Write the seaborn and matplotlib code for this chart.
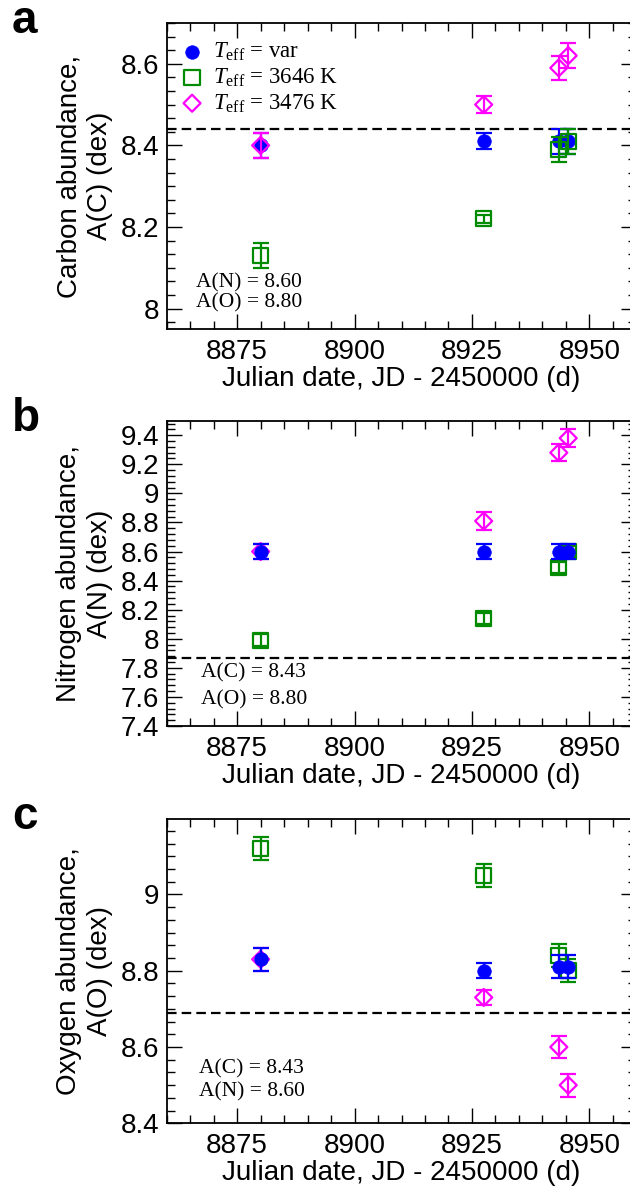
import matplotlib
matplotlib.use("Agg")
import matplotlib.pyplot as plt
from matplotlib.ticker import FixedLocator, AutoMinorLocator, MultipleLocator, FuncFormatter
import seaborn as sns

sns.set_theme(style="ticks", rc={
    "axes.edgecolor": "black", "text.color": "black",
    "xtick.color": "black", "ytick.color": "black",
    "axes.labelcolor": "black",
})
plt.rcParams["font.family"] = ["Liberation Sans", "DejaVu Sans"]
plt.rcParams["mathtext.fontset"] = "custom"
plt.rcParams["mathtext.rm"] = "Liberation Serif"
plt.rcParams["mathtext.it"] = "Liberation Serif:italic"

# Observation epochs (JD - 2450000)
jd = [8880.0, 8927.5, 8943.5, 8945.5]

# Carbon abundance A(C)
c_var = [8.40, 8.41, 8.41, 8.41]
c_var_err = [0.03, 0.02, 0.03, 0.03]
c_3646 = [8.13, 8.22, 8.39, 8.41]
c_3646_err = [0.03, 0.01, 0.03, 0.03]
c_3476 = [8.40, 8.50, 8.59, 8.62]
c_3476_err = [0.03, 0.02, 0.03, 0.03]

# Nitrogen abundance A(N)
n_var = [8.60, 8.60, 8.60, 8.60]
n_var_err = [0.05, 0.05, 0.05, 0.05]
n_3646 = [7.99, 8.14, 8.49, 8.60]
n_3646_err = [0.04, 0.04, 0.04, 0.04]
n_3476 = [8.60, 8.81, 9.28, 9.38]
n_3476_err = [0.05, 0.06, 0.06, 0.06]

# Oxygen abundance A(O)
o_var = [8.83, 8.80, 8.81, 8.81]
o_var_err = [0.03, 0.02, 0.03, 0.03]
o_3646 = [9.12, 9.05, 8.84, 8.80]
o_3646_err = [0.03, 0.03, 0.03, 0.03]
o_3476 = [8.83, 8.73, 8.60, 8.50]
o_3476_err = [0.03, 0.02, 0.03, 0.03]

# Reference (solar) abundances shown as dashed lines
ref_c, ref_n, ref_o = 8.44, 7.87, 8.69

series_labels = [r"$T_{\rm eff}$ = var", r"$T_{\rm eff}$ = 3646 K", r"$T_{\rm eff}$ = 3476 K"]

BLUE, GREEN, MAGENTA = "#0000ff", "#008b00", "#ff00ff"
STYLE = {
    "var": dict(color=BLUE, marker="o", s=95, fc=BLUE, lw=0.5),
    "3646": dict(color=GREEN, marker="s", s=121, fc="none", lw=1.6),
    "3476": dict(color=MAGENTA, marker="D", s=75, fc="none", lw=1.6),
}

W, H = 630, 1190
fig = plt.figure(figsize=(W / 100, H / 100), dpi=100)

x_left, x_right = 166.7, 636.3
panels = [
    # (top px, bottom px)
    (23.0, 329.0),
    (420.7, 726.0),
    (819.3, 1123.3),
]


def make_axes(top, bottom):
    return fig.add_axes([x_left / W, 1 - bottom / H, (x_right - x_left) / W, (bottom - top) / H])


def draw(ax, key, y, yerr, z, label):
    st = STYLE[key]
    ax.errorbar(jd, y, yerr=yerr, fmt="none", ecolor=st["color"], elinewidth=1.6,
                capsize=5.6, capthick=1.6, zorder=z)
    sns.scatterplot(x=jd, y=y, ax=ax, marker=st["marker"], s=st["s"], color=st["color"],
                    facecolor=st["fc"], edgecolor=st["color"], linewidth=st["lw"],
                    zorder=z + 0.5, label=label)


fmt = FuncFormatter(lambda v, p: "%g" % round(v, 2))


def style_axes(ax, ylim, majors, nminor, ylabel):
    ax.set_xlim(8860, 8960)
    ax.set_ylim(*ylim)
    ax.xaxis.set_major_locator(FixedLocator([8875, 8900, 8925, 8950]))
    ax.xaxis.set_minor_locator(MultipleLocator(5))
    ax.yaxis.set_major_locator(FixedLocator(majors))
    ax.yaxis.set_minor_locator(AutoMinorLocator(nminor))
    ax.yaxis.set_major_formatter(fmt)
    ax.tick_params(which="both", direction="in", top=True, right=True, width=1.0)
    ax.tick_params(which="major", length=11, labelsize=20)
    ax.tick_params(which="minor", length=5.5)
    ax.tick_params(axis="y", which="major", pad=5.3)
    ax.tick_params(axis="x", which="major", pad=7)
    for sp in ax.spines.values():
        sp.set_linewidth(1.3)
        sp.set_color("black")
    ax.set_xlabel("Julian date, JD - 2450000 (d)", fontsize=20, labelpad=1)
    ax.set_ylabel(ylabel, fontsize=20, linespacing=1.25)
    ax.yaxis.set_label_coords(-0.114, 0.5)
    ax.set_facecolor("white")


# ---- panel a: carbon ----
ax_a = make_axes(*panels[0])
ax_a.axhline(ref_c, color="black", lw=1.6, dashes=(4.3, 2.3), zorder=1)
draw(ax_a, "var", c_var, c_var_err, 2, series_labels[0])
draw(ax_a, "3646", c_3646, c_3646_err, 3, series_labels[1])
draw(ax_a, "3476", c_3476, c_3476_err, 4, series_labels[2])
style_axes(ax_a, (7.95, 8.7), [8.0, 8.2, 8.4, 8.6], 6, "Carbon abundance,\nA(C) (dex)")
ax_a.legend(loc="upper left", bbox_to_anchor=(0.0296, 0.942), borderaxespad=0, borderpad=0,
            handlelength=1.0, handletextpad=0.4, labelspacing=0.15, frameon=False,
            scatterpoints=1, prop={"family": "Liberation Serif", "size": 16.5})
ax_a.text(0.062, 0.150, "A(N) = 8.60", transform=ax_a.transAxes, family="Liberation Serif",
          fontsize=15.5, va="center", ha="left")
ax_a.text(0.062, 0.085, "A(O) = 8.80", transform=ax_a.transAxes, family="Liberation Serif",
          fontsize=15.5, va="center", ha="left")

# ---- panel b: nitrogen ----
ax_b = make_axes(*panels[1])
ax_b.axhline(ref_n, color="black", lw=1.6, dashes=(4.3, 2.3), zorder=1)
draw(ax_b, "3646", n_3646, n_3646_err, 2, None)
draw(ax_b, "3476", n_3476, n_3476_err, 3, None)
draw(ax_b, "var", n_var, n_var_err, 4, None)
style_axes(ax_b, (7.4, 9.5), [7.4 + 0.2 * i for i in range(11)], 5, "Nitrogen abundance,\nA(N) (dex)")
ax_b.text(0.073, 0.174, "A(C) = 8.43", transform=ax_b.transAxes, family="Liberation Serif",
          fontsize=15.5, va="center", ha="left")
ax_b.text(0.073, 0.085, "A(O) = 8.80", transform=ax_b.transAxes, family="Liberation Serif",
          fontsize=15.5, va="center", ha="left")

# ---- panel c: oxygen ----
ax_c = make_axes(*panels[2])
ax_c.axhline(ref_o, color="black", lw=1.6, dashes=(4.3, 2.3), zorder=1)
draw(ax_c, "3646", o_3646, o_3646_err, 2, None)
draw(ax_c, "3476", o_3476, o_3476_err, 3, None)
draw(ax_c, "var", o_var, o_var_err, 4, None)
style_axes(ax_c, (8.4, 9.197), [8.4, 8.6, 8.8, 9.0], 6, "Oxygen abundance,\nA(O) (dex)")
ax_c.text(0.069, 0.179, "A(C) = 8.43", transform=ax_c.transAxes, family="Liberation Serif",
          fontsize=15.5, va="center", ha="left")
ax_c.text(0.069, 0.104, "A(N) = 8.60", transform=ax_c.transAxes, family="Liberation Serif",
          fontsize=15.5, va="center", ha="left")

for ax in (ax_b, ax_c):
    if ax.get_legend() is not None:
        ax.get_legend().remove()

# panel letters
for letter, (top, _) in zip("abc", panels):
    fig.text(12 / W, 1 - (top + 10) / H, letter, fontsize=33, fontweight="bold",
             family="Liberation Sans", ha="left", va="baseline")

fig.savefig("out.png", dpi=100, facecolor="white")
